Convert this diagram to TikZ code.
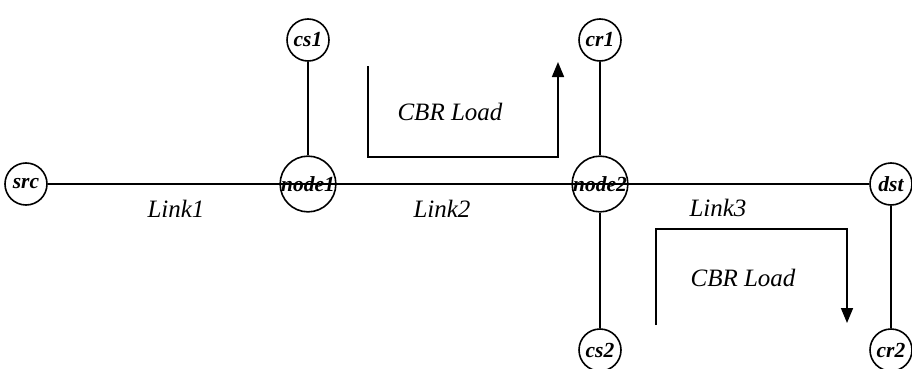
\documentclass[tikz,border=0pt]{standalone}
\usepackage{fontspec}
\setmainfont{Liberation Serif}
\usetikzlibrary{arrows.meta}
\begin{document}
\begin{tikzpicture}[x=1pt,y=-1pt,
  netnode/.style={draw,circle,line width=1.6pt,minimum size=42pt,inner sep=0pt,
    font=\fontsize{21.5}{24}\selectfont\bfseries\itshape},
  link/.style={line width=1.6pt},
  lbl/.style={font=\fontsize{25}{28}\selectfont\itshape,inner sep=0pt},
  flow/.style={line width=1.6pt,-{Triangle[length=15pt,width=12pt]}}]
\useasboundingbox (0,0) rectangle (912,369);
\node[netnode] (src) at (26,184) {src};
\node[netnode] (node1) at (308,184) {node1};
\node[netnode] (node2) at (600,184) {node2};
\node[netnode] (dst) at (891,184) {dst};
\node[netnode] (cs1) at (308,40) {cs1};
\node[netnode] (cr1) at (600,40) {cr1};
\node[netnode] (cs2) at (600,350) {cs2};
\node[netnode] (cr2) at (891,350) {cr2};
\draw[link] (src) -- (dst);
\draw[link] (cs1) -- (node1);
\draw[link] (cr1) -- (node2);
\draw[link] (node2) -- (cs2);
\draw[link] (dst) -- (cr2);
\node[lbl] (l1) at (176,209) {Link1};
\node[lbl] (l2) at (442,209) {Link2};
\node[lbl] (l3) at (718,208) {Link3};
\node[lbl] (c1) at (450,112) {CBR Load};
\node[lbl] (c2) at (743,278) {CBR Load};
\coordinate (a1) at (368,66);
\coordinate (a2) at (368,157);
\coordinate (a3) at (558,157);
\coordinate (a4) at (558,62);
\draw[flow] (a1) -- (a2) -- (a3) -- (a4);
\coordinate (b1) at (656,325);
\coordinate (b2) at (656,229);
\coordinate (b3) at (847,229);
\coordinate (b4) at (847,323);
\draw[flow] (b1) -- (b2) -- (b3) -- (b4);
\end{tikzpicture}
\end{document}
